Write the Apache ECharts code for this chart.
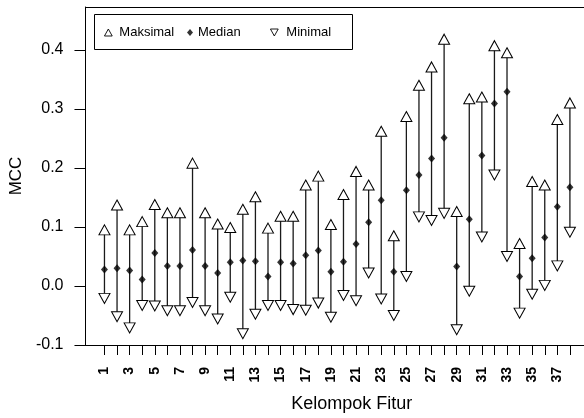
<!DOCTYPE html>
<html>
<head>
<meta charset="utf-8">
<script src="https://cdn.jsdelivr.net/npm/echarts@6/dist/echarts.min.js"></script>
<style>html,body{margin:0;padding:0;background:#fff}#c{width:584px;height:418px}</style>
</head>
<body>
<div id="c"></div>
<script>
const groups = [1,2,3,4,5,6,7,8,9,10,11,12,13,14,15,16,17,18,19,20,21,22,23,24,25,26,27,28,29,30,31,32,33,34,35,36,37,38];
const maxVals = [0.095,0.137,0.095,0.109,0.138,0.124,0.124,0.208,0.124,0.105,0.099,0.130,0.151,0.098,0.118,0.118,0.171,0.186,0.104,0.155,0.194,0.171,0.262,0.085,0.287,0.340,0.371,0.418,0.126,0.317,0.320,0.407,0.395,0.072,0.177,0.171,0.282,0.310];
const medVals = [0.028,0.030,0.026,0.011,0.056,0.034,0.034,0.061,0.034,0.022,0.040,0.043,0.042,0.016,0.040,0.038,0.052,0.060,0.024,0.041,0.071,0.108,0.145,0.024,0.162,0.188,0.216,0.251,0.033,0.113,0.221,0.309,0.329,0.016,0.047,0.082,0.134,0.167];
const minVals = [-0.021,-0.052,-0.071,-0.033,-0.034,-0.042,-0.042,-0.028,-0.042,-0.056,-0.019,-0.081,-0.048,-0.033,-0.033,-0.040,-0.041,-0.029,-0.053,-0.016,-0.025,0.022,-0.022,-0.050,0.016,0.117,0.111,0.123,-0.074,-0.009,0.083,0.188,0.050,-0.046,-0.014,0.001,0.034,0.091];
const xTickValues = [1,2,3,4,5,6,7,8,9,10,11,12,13,14,15,16,17,18,19,20,21,22,23,24,25,26,27,28,29,30,31,32,33,34,35,36,37,38];
const xLabelValues = [1,3,5,7,9,11,13,15,17,19,21,23,25,27,29,31,33,35,37];
const yTickValues = [-0.1,0,0.1,0.2,0.3,0.4];
const seriesNames = ['Maksimal','Median','Minimal'];

const FONT = 'Liberation Sans, Arial, sans-serif';
const downTri = 'path://M0,0 L10,0 L5,9 Z';
const upTri = 'path://M5,0 L10,9 L0,9 Z';

const chart = echarts.init(document.getElementById('c'), null, {renderer:'canvas'});
const rangeData = groups.map((g,i)=>[g, minVals[i], maxVals[i]]);

const legendBase = {
  orient:'horizontal', padding:0, itemGap:0,
  textStyle:{fontFamily:FONT, fontSize:13, color:'#000'},
  selectedMode:false
};

const XMIN = -0.51, XMAX = 39.12;

chart.setOption({
  animation:false,
  backgroundColor:'#fff',
  grid:{left:85, top:7, bottom:72, right:0, show:false, containLabel:false},
  xAxis:[{
    type:'value', min:XMIN, max:XMAX, position:'bottom',
    name:'Kelompok Fitur', nameLocation:'middle', nameGap:50,
    nameTextStyle:{fontFamily:FONT, fontSize:18, color:'#000', padding:[0,0,0,34]},
    axisLine:{show:true, onZero:false, lineStyle:{color:'#000', width:1}},
    axisTick:{show:true, length:10, inside:false, customValues:xTickValues, lineStyle:{color:'#000', width:1}},
    axisLabel:{customValues:xLabelValues, rotate:90, margin:22, fontFamily:FONT, fontSize:14, fontWeight:'bold', color:'#000'},
    splitLine:{show:false}
  },{
    type:'value', min:XMIN, max:XMAX, position:'top',
    axisLine:{show:true, onZero:false, lineStyle:{color:'#000', width:1}},
    axisTick:{show:false}, axisLabel:{show:false}, splitLine:{show:false}
  }],
  yAxis:{
    type:'value', min:-0.1, max:0.4725,
    name:'MCC', nameLocation:'middle', nameGap:59,
    nameTextStyle:{fontFamily:FONT, fontSize:17, color:'#000'},
    axisLine:{show:true, onZero:false, lineStyle:{color:'#000', width:1}},
    axisTick:{show:true, length:11, customValues:yTickValues, lineStyle:{color:'#000', width:1}},
    axisLabel:{customValues:yTickValues, margin:22, fontFamily:FONT, fontSize:16, color:'#000',
      formatter:v=>Number(v).toFixed(1)},
    splitLine:{show:false}
  },
  legend:[
    Object.assign({}, legendBase, {data:[{name:'Maksimal', icon:upTri, itemStyle:{borderWidth:0.9}}], left:104, top:26, itemWidth:8, itemHeight:7,
      textStyle:Object.assign({}, legendBase.textStyle, {padding:[0,0,0,2]})}),
    Object.assign({}, legendBase, {data:[{name:'Median', icon:'diamond'}], left:187, top:26, itemWidth:6, itemHeight:7}),
    Object.assign({}, legendBase, {data:[{name:'Minimal', icon:downTri, itemStyle:{borderWidth:0.9}}], left:270, top:26, itemWidth:8, itemHeight:7,
      textStyle:Object.assign({}, legendBase.textStyle, {padding:[0,0,0,3]})})
  ],
  graphic:[{type:'rect', left:94, top:14, z:-1, shape:{width:258, height:35}, style:{fill:'#fff', stroke:'#000', lineWidth:1}}],
  series:[
    {
      type:'custom', name:'range', data:rangeData, encode:{x:0, y:[1,2]}, z:1, silent:true,
      renderItem:function(params, api){
        const a = api.coord([api.value(0), api.value(1)]);
        const b = api.coord([api.value(0), api.value(2)]);
        return {type:'line', shape:{x1:a[0], y1:a[1], x2:b[0], y2:b[1]}, style:{stroke:'#1a1a1a', lineWidth:1.3}};
      }
    },
    {
      type:'scatter', name:'Maksimal', z:3, symbol:upTri, symbolSize:[11,10],
      itemStyle:{color:'#fff', borderColor:'#000', borderWidth:1, opacity:1},
      data:groups.map((g,i)=>[g, maxVals[i]])
    },
    {
      type:'scatter', name:'Median', z:3, symbol:'diamond', symbolSize:[7,8],
      itemStyle:{color:'#000'},
      data:groups.map((g,i)=>[g, medVals[i]])
    },
    {
      type:'scatter', name:'Minimal', z:3, symbol:downTri, symbolSize:[11,10],
      itemStyle:{color:'#fff', borderColor:'#000', borderWidth:1, opacity:1},
      data:groups.map((g,i)=>[g, minVals[i]])
    }
  ]
});
</script>
</body>
</html>
